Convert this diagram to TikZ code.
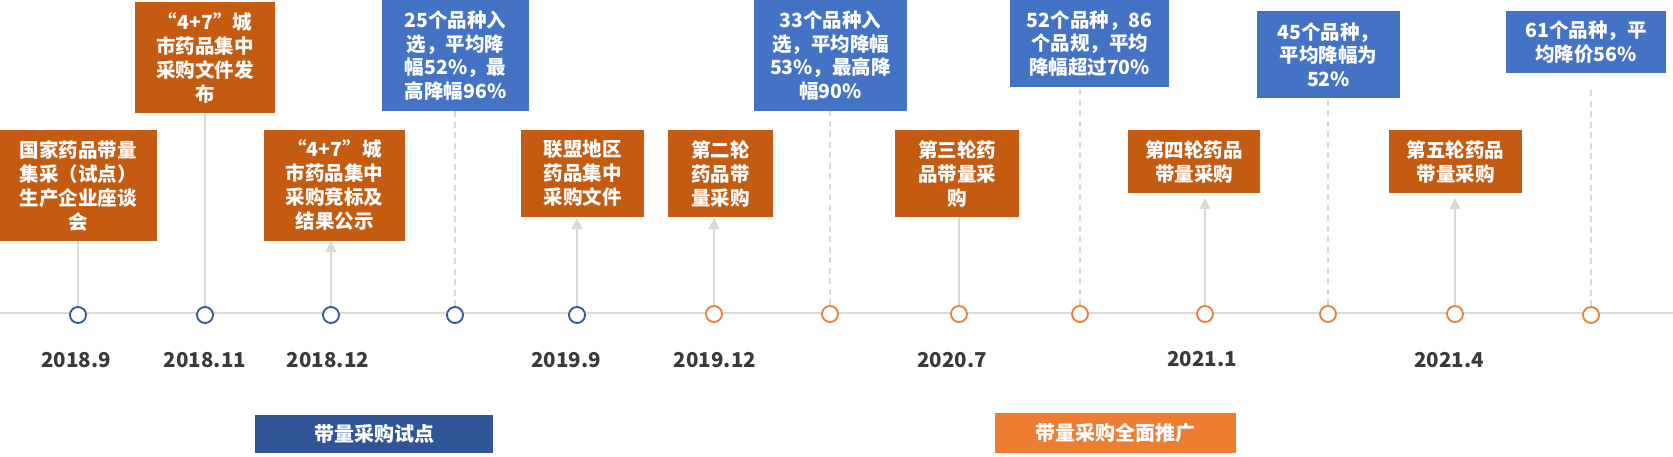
\documentclass[tikz,border=0pt]{standalone}
\usepackage{fontspec}
\setmainfont{Noto Sans CJK SC}
\usetikzlibrary{arrows.meta}
\definecolor{brownbox}{HTML}{C55A11}
\definecolor{bluebox}{HTML}{4472C4}
\definecolor{darkblue}{HTML}{2F5597}
\definecolor{orangec}{HTML}{ED7D31}
\definecolor{axisgray}{HTML}{D9D9D9}
\definecolor{datecol}{HTML}{3A3A3A}
\tikzset{
  evbox/.style={fill=brownbox, text=white, inner sep=0pt, align=center,
    font=\fontsize{19.5}{24}\selectfont\bfseries},
  numbox/.style={fill=bluebox, text=white, inner sep=0pt, align=center,
    font=\fontsize{19.5}{23.5}\selectfont\bfseries},
  phasebox/.style={text=white, inner sep=0pt, align=center,
    font=\fontsize{20}{24}\selectfont\bfseries},
  datelbl/.style={text=datecol, inner sep=0pt, font=\fontsize{20.5}{24}\selectfont\bfseries},
  bluedot/.style={circle, draw=darkblue, fill=white, line width=1.8pt, minimum size=16pt, inner sep=0pt},
  orangedot/.style={circle, draw=orangec, fill=white, line width=1.8pt, minimum size=16pt, inner sep=0pt},
  axisline/.style={draw=axisgray, line width=2pt},
  solidlink/.style={draw=axisgray, line width=1.8pt},
  arrowlink/.style={draw=axisgray, line width=1.8pt, -{Triangle[length=11pt,width=11pt]}},
  dashlink/.style={draw=axisgray, line width=1.6pt, dash pattern=on 6pt off 4.5pt},
}
\newcommand{\evb}[6]{% name, x1, y1, x2, y2, text
  \node[evbox, minimum width=#4pt-#2pt, minimum height=#5pt-#3pt, text width=#4pt-#2pt] (#1) at ({(#2+#4)/2},{(#3+#5)/2}) {#6};}
\newcommand{\nmb}[6]{%
  \node[numbox, minimum width=#4pt-#2pt, minimum height=#5pt-#3pt, text width=#4pt-#2pt] (#1) at ({(#2+#4)/2},{(#3+#5)/2}) {#6};}
\begin{document}
\begin{tikzpicture}[x=1pt,y=-1pt]
\useasboundingbox (0,0) rectangle (1673,456);
\fill[white] (0,0) rectangle (1673,456);

% axis
\coordinate (axL) at (0,313);
\coordinate (axR) at (1673,313);
\draw[axisline] (axL) -- (axR);

% event boxes (brown)
\evb{b1}{0}{130}{157}{241}{国家药品带量\\集采（试点）\\生产企业座谈\\会}
\evb{b2}{135}{2}{275}{113}{“4+7”城\\市药品集中\\采购文件发\\布}
\evb{b3}{264}{130}{405}{241}{“4+7”城\\市药品集中\\采购竞标及\\结果公示}
\evb{b5}{521}{130}{644}{217}{联盟地区\\药品集中\\采购文件}
\evb{b6}{668}{130}{773}{217}{第二轮\\药品带\\量采购}
\evb{b8}{895}{130}{1019}{217}{第三轮药\\品带量采\\购}
\evb{b10}{1128}{130}{1260}{193}{第四轮药品\\带量采购}
\evb{b12}{1389}{130}{1522}{193}{第五轮药品\\带量采购}

% number boxes (blue)
\nmb{b4}{382}{0}{529}{111}{25个品种入\\选，平均降\\幅52\%，最\\高降幅96\%}
\nmb{b7}{754}{0}{907}{111}{33个品种入\\选，平均降幅\\53\%，最高降\\幅90\%}
\nmb{b9}{1010}{0}{1169}{87}{52个品种，86\\个品规，平均\\降幅超过70\%}
\nmb{b11}{1257}{11}{1400}{98}{45个品种，\\平均降幅为\\52\%}
\nmb{b13}{1506}{11}{1666}{73}{61个品种，平\\均降价56\%}

% timeline dots
\node[bluedot] (c1) at (78,315) {};
\node[bluedot] (c2) at (205,315) {};
\node[bluedot] (c3) at (331,315) {};
\node[bluedot] (c4) at (455,315) {};
\node[bluedot] (c5) at (577,315) {};
\node[orangedot] (c6) at (714,314) {};
\node[orangedot] (c7) at (830,314) {};
\node[orangedot] (c8) at (959,314) {};
\node[orangedot] (c9) at (1080,314) {};
\node[orangedot] (c10) at (1205,314) {};
\node[orangedot] (c11) at (1328,314) {};
\node[orangedot] (c12) at (1455,314) {};
\node[orangedot] (c13) at (1591,315) {};

% connectors
\draw[solidlink] (c1.north) -- (c1.north |- b1.south);
\draw[solidlink] (c2.north) -- (c2.north |- b2.south);
\draw[arrowlink] (c3.north) -- (c3.north |- b3.south);
\draw[dashlink] (c4.north) -- (c4.north |- b4.south);
\draw[arrowlink, shorten >=1pt] (c5.north) -- (c5.north |- b5.south);
\draw[arrowlink, shorten >=1pt] (c6.north) -- (c6.north |- b6.south);
\draw[dashlink] (c7.north) -- (c7.north |- b7.south);
\draw[solidlink] (c8.north) -- (c8.north |- b8.south);
\draw[dashlink] (c9.north) -- (c9.north |- b9.south);
\draw[arrowlink, shorten >=5pt] (c10.north) -- (c10.north |- b10.south);
\draw[dashlink] (c11.north) -- (c11.north |- b11.south);
\draw[arrowlink, shorten >=5pt] (c12.north) -- (c12.north |- b12.south);
\draw[dashlink, shorten >=13pt] (c13.north) -- (c13.north |- b13.south);

% dates
\node[datelbl] (d1) at (76,360) {2018.9};
\node[datelbl] (d2) at (205,360) {2018.11};
\node[datelbl] (d3) at (328,360) {2018.12};
\node[datelbl] (d5) at (566,360) {2019.9};
\node[datelbl] (d6) at (715,360) {2019.12};
\node[datelbl] (d8) at (952,360) {2020.7};
\node[datelbl] (d10) at (1202,359) {2021.1};
\node[datelbl] (d12) at (1449,360) {2021.4};

% phase labels
\node[phasebox, fill=darkblue, minimum width=238pt, minimum height=38pt] (p1) at (374,434) {带量采购试点};
\node[phasebox, fill=orangec, minimum width=241pt, minimum height=40pt] (p2) at (1115.5,433) {带量采购全面推广};
\end{tikzpicture}
\end{document}
